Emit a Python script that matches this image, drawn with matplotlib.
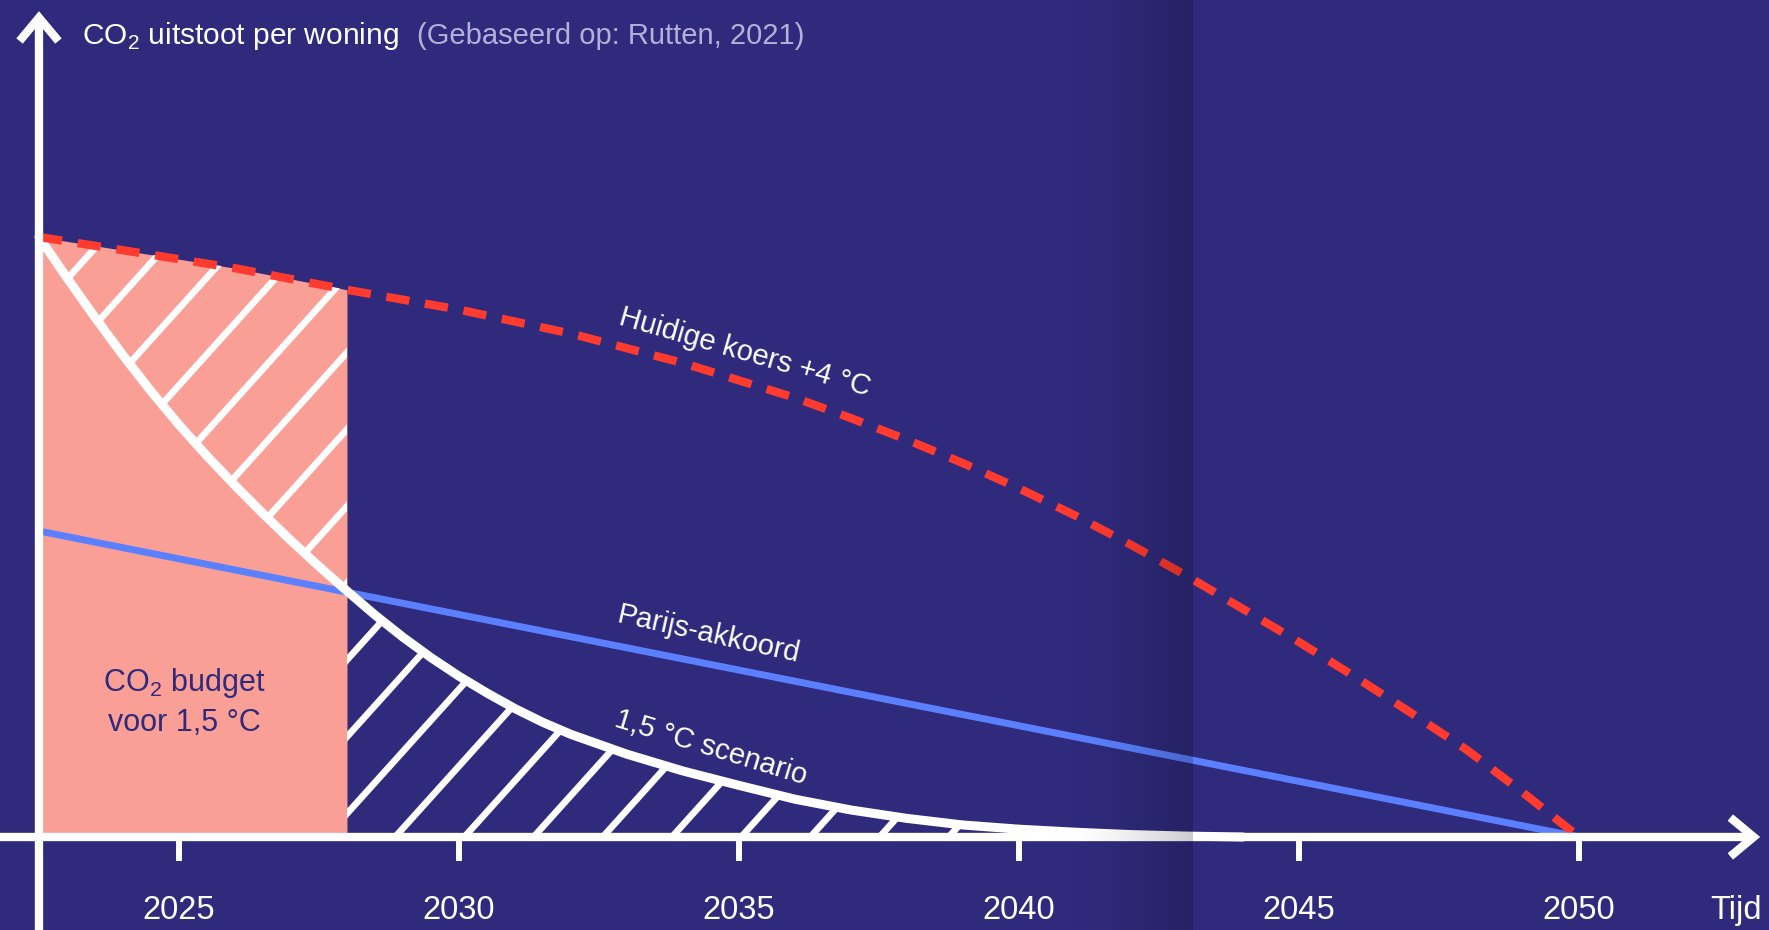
import numpy as np
import matplotlib
matplotlib.use('Agg')
import matplotlib.pyplot as plt
import matplotlib.transforms as mtransforms

plt.rcParams['font.family'] = ['Liberation Sans', 'DejaVu Sans']

NAVY = '#2f2a7c'
PINK = '#fa9f95'
RED = '#ff3a2f'
BLUE = '#5b80ff'
LAVENDER = '#b3b0d9'

# relative CO2 emission per house (start = 100)
years_koers = [2022.5, 2024, 2026, 2028, 2030, 2032, 2034, 2036, 2037, 2038, 2039,
               2040, 2041, 2042, 2043, 2044, 2045, 2046, 2047, 2048, 2049, 2050]
koers = [100, 97.8, 94.8, 91.2, 87.9, 83.9, 79.0, 73.2, 69.8, 66.2, 62.3,
         58.1, 53.6, 48.7, 43.5, 38.0, 32.5, 26.7, 20.7, 14.5, 7.4, 0]

years_parijs = [2022.5, 2050]
parijs = [51, 0]

years_15 = [2022.5, 2023, 2023.5, 2024, 2024.5, 2025, 2025.5, 2026, 2026.5, 2027,
            2027.5, 2028, 2028.5, 2029, 2029.5, 2030, 2030.5, 2031, 2031.5, 2032,
            2033, 2034, 2035, 2036, 2037, 2038, 2039, 2040, 2041, 2042, 2043, 2044]
scen_15 = [100, 93.2, 86.6, 80.3, 74.3, 68.7, 63.5, 58.6, 53.9, 49.4,
           45.1, 41.0, 37.0, 33.3, 29.9, 26.8, 24.0, 21.4, 19.1, 17.1,
           13.8, 11.0, 8.6, 6.3, 4.5, 3.1, 2.0, 1.3, 0.8, 0.4, 0.15, 0]

start_year = 2022.5
budget_end = 2028
tick_years = [2025, 2030, 2035, 2040, 2045, 2050]

fig = plt.figure(figsize=(17.69, 9.30), dpi=100, facecolor=NAVY)
ax = fig.add_axes([0, 0, 1, 1])
ax.set_xlim(2021.804, 2053.393)
ax.set_ylim(-15.5, 139.5)
ax.axis('off')

yk = np.array(years_koers)
k = np.array(koers)
y15 = np.array(years_15)
s15 = np.array(scen_15)

# pink budget block under the current course, up to 2028
mk = yk <= budget_end
ax.fill_between(yk[mk], 0, k[mk], color=PINK, lw=0, zorder=1)

# hatch regions
m1 = y15 <= budget_end
reg1 = ax.fill_between(y15[m1], s15[m1], np.interp(y15[m1], yk, k),
                       color='none', lw=0, zorder=1)
m2 = y15 >= budget_end
reg2 = ax.fill_between(y15[m2], 0, s15[m2], color='none', lw=0, zorder=1)

tr = ax.transData
inv = tr.inverted()
_, y_axis_px = tr.transform((2030, 0))
x_anchor_px = tr.transform((2028.86, 0))[0]
spacing = 69.2
t = np.tan(np.radians(48))
H = fig.bbox.height
for reg in (reg1, reg2):
    clip = (reg.get_paths()[0], tr)
    for i in range(-30, 30):
        xb = x_anchor_px + i * spacing
        pts = inv.transform([(xb - y_axis_px / t, 0), (xb + (H - y_axis_px) / t, H)])
        ln, = ax.plot(pts[:, 0], pts[:, 1], color='white', lw=4.8,
                      solid_capstyle='butt', zorder=2)
        ln.set_clip_path(*clip)

# lines
ax.plot(years_parijs, parijs, color=BLUE, lw=5, zorder=3, solid_capstyle='butt')
ax.plot(y15, s15, color='white', lw=6.5, zorder=4, solid_capstyle='round')
ax.plot(yk, k, color=RED, lw=6, dashes=(2.8, 1.9), zorder=4, dash_capstyle='butt')

# axes with arrows
bx = mtransforms.blended_transform_factory(ax.transAxes, ax.transData)
by = mtransforms.blended_transform_factory(ax.transData, ax.transAxes)
arrow = dict(arrowstyle='->,head_length=0.6,head_width=0.5', lw=6, color='white',
             shrinkA=0, shrinkB=0, mutation_scale=28, joinstyle='miter', capstyle='butt')
ax.annotate('', xy=(0.995, 0), xycoords=bx, xytext=(0, 0), textcoords=bx,
            arrowprops=arrow, zorder=5)
ax.annotate('', xy=(start_year, 0.988), xycoords=by, xytext=(start_year, 0), textcoords=by,
            arrowprops=arrow, zorder=5)

ax.vlines(tick_years, -4, 0, color='white', lw=4.3, zorder=5)
for yr in tick_years:
    ax.text(yr, -12.3, str(yr), color='white', fontsize=23.5, ha='center', va='center')
ax.text(0.996, -12.3, 'Tijd', transform=bx, color='white', fontsize=23.5,
        ha='right', va='center')

# titles
ax.text(0.0464, 0.9527, r'CO$_\mathregular{2}$ uitstoot per woning', transform=ax.transAxes,
        color='white', fontsize=21.5, ha='left', va='baseline')
ax.text(0.2357, 0.9527, '(Gebaseerd op: Rutten, 2021)', transform=ax.transAxes,
        color=LAVENDER, fontsize=21, ha='left', va='baseline')

# labels on lines
ax.text(2035.1, 80.8, 'Huidige koers +4 °C', color='white', fontsize=21,
        rotation=-16, rotation_mode='anchor', ha='center', va='center')
ax.text(2034.45, 33.8, 'Parijs-akkoord', color='white', fontsize=21,
        rotation=-12.5, rotation_mode='anchor', ha='center', va='center')
ax.text(2034.5, 14.8, '1,5 °C scenario', color='white', fontsize=21,
        rotation=-17, rotation_mode='anchor', ha='center', va='center')

ax.text(2025.09, 25.7, r'CO$_\mathregular{2}$ budget', color=NAVY, fontsize=22,
        ha='center', va='center')
ax.text(2025.09, 19.0, 'voor 1,5 °C', color=NAVY, fontsize=22,
        ha='center', va='center')

# page fold shadow
sh = fig.add_axes([1060 / 1769, 0, (1193 - 1060) / 1769, 1])
g = np.linspace(0, 1, 256) ** 1.6 * 0.2
img = np.zeros((1, 256, 4))
img[..., 3] = g
sh.imshow(img, aspect='auto', extent=(0, 1, 0, 1))
sh.axis('off')

fig.savefig('out.png', dpi=100, facecolor=NAVY)
